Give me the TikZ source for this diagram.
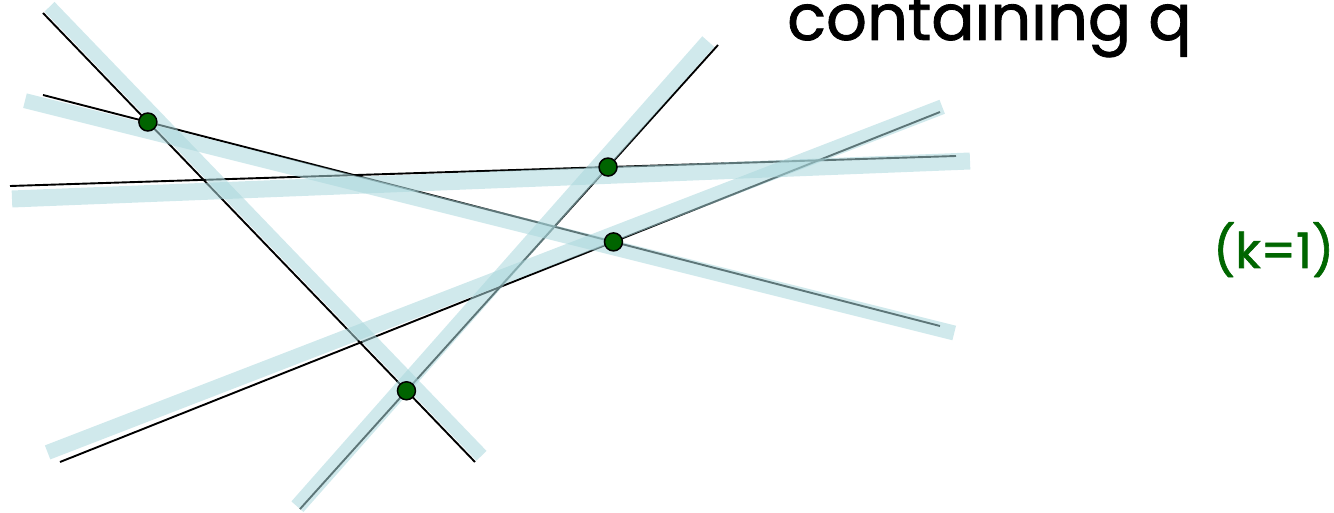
\documentclass[tikz,border=0pt]{standalone}
\usepackage{fontspec}
\setmainfont{Poppins}
\newfontfamily\handfont{Poppins}[FakeBold=1.3]
\usetikzlibrary{calc}
\definecolor{bandcol}{RGB}{170,215,220}
\definecolor{kgreen}{RGB}{0,102,0}
\definecolor{dotgreen}{RGB}{0,100,0}
\tikzset{
  ln/.style={line width=1.9pt, black},
  band/.style={line width=#1, draw=bandcol, draw opacity=0.55, line cap=butt},
  dot/.style={circle, fill=dotgreen, draw=black, line width=1.5pt, minimum size=18pt, inner sep=0pt},
}
\begin{document}
\begin{tikzpicture}[x=1pt,y=-1pt]
\useasboundingbox (0,0) rectangle (1334,513);
\clip (0,0) rectangle (1334,513);
% line end points
\coordinate (a1) at (43,13);   \coordinate (a2) at (475,462);
\coordinate (b1) at (43,95);   \coordinate (b2) at (940,326);
\coordinate (c1) at (10,186);  \coordinate (c2) at (956,156);
\coordinate (d1) at (718,45);  \coordinate (d2) at (300,509);
\coordinate (e1) at (60,462);  \coordinate (e2) at (940,112);
% band end points
\coordinate (ab1) at (49.5,6.8);   \coordinate (ab2) at (481.5,455.8);
\coordinate (bb1) at (25.0,100.7); \coordinate (bb2) at (954.2,333.0);
\coordinate (cb1) at (12,199);     \coordinate (cb2) at (970,161);
\coordinate (db1) at (708.3,41.6); \coordinate (db2) at (297.4,506.7);
\coordinate (eb1) at (47.6,452.4); \coordinate (eb2) at (942.2,106.8);
% lines
\draw[ln] (a1) -- (a2);
\draw[ln] (b1) -- (b2);
\draw[ln] (c1) -- (c2);
\draw[ln] (d1) -- (d2);
\draw[ln] (e1) -- (e2);
% half-plane bands
\draw[band=14pt] (ab1) -- (ab2);
\draw[band=15pt] (bb1) -- (bb2);
\draw[band=17pt] (cb1) -- (cb2);
\draw[band=16pt] (db1) -- (db2);
\draw[band=15pt] (eb1) -- (eb2);
% vertices
\node[dot] (p1) at (intersection of a1--a2 and b1--b2) {};
\node[dot] (p2) at (intersection of c1--c2 and d1--d2) {};
\node[dot] (p3) at (intersection of b1--b2 and e1--e2) {};
\node[dot] (p4) at (intersection of a1--a2 and d1--d2) {};
% texts
\node[anchor=base west, inner sep=0pt, font=\handfont\fontsize{64}{64}\selectfont] (title) at (787,40) {containing q};
\node[anchor=base west, inner sep=0pt, text=kgreen, font=\handfont\fontsize{49}{49}\selectfont] (klabel) at (1213,268) {(k=1)};
\end{tikzpicture}
\end{document}
